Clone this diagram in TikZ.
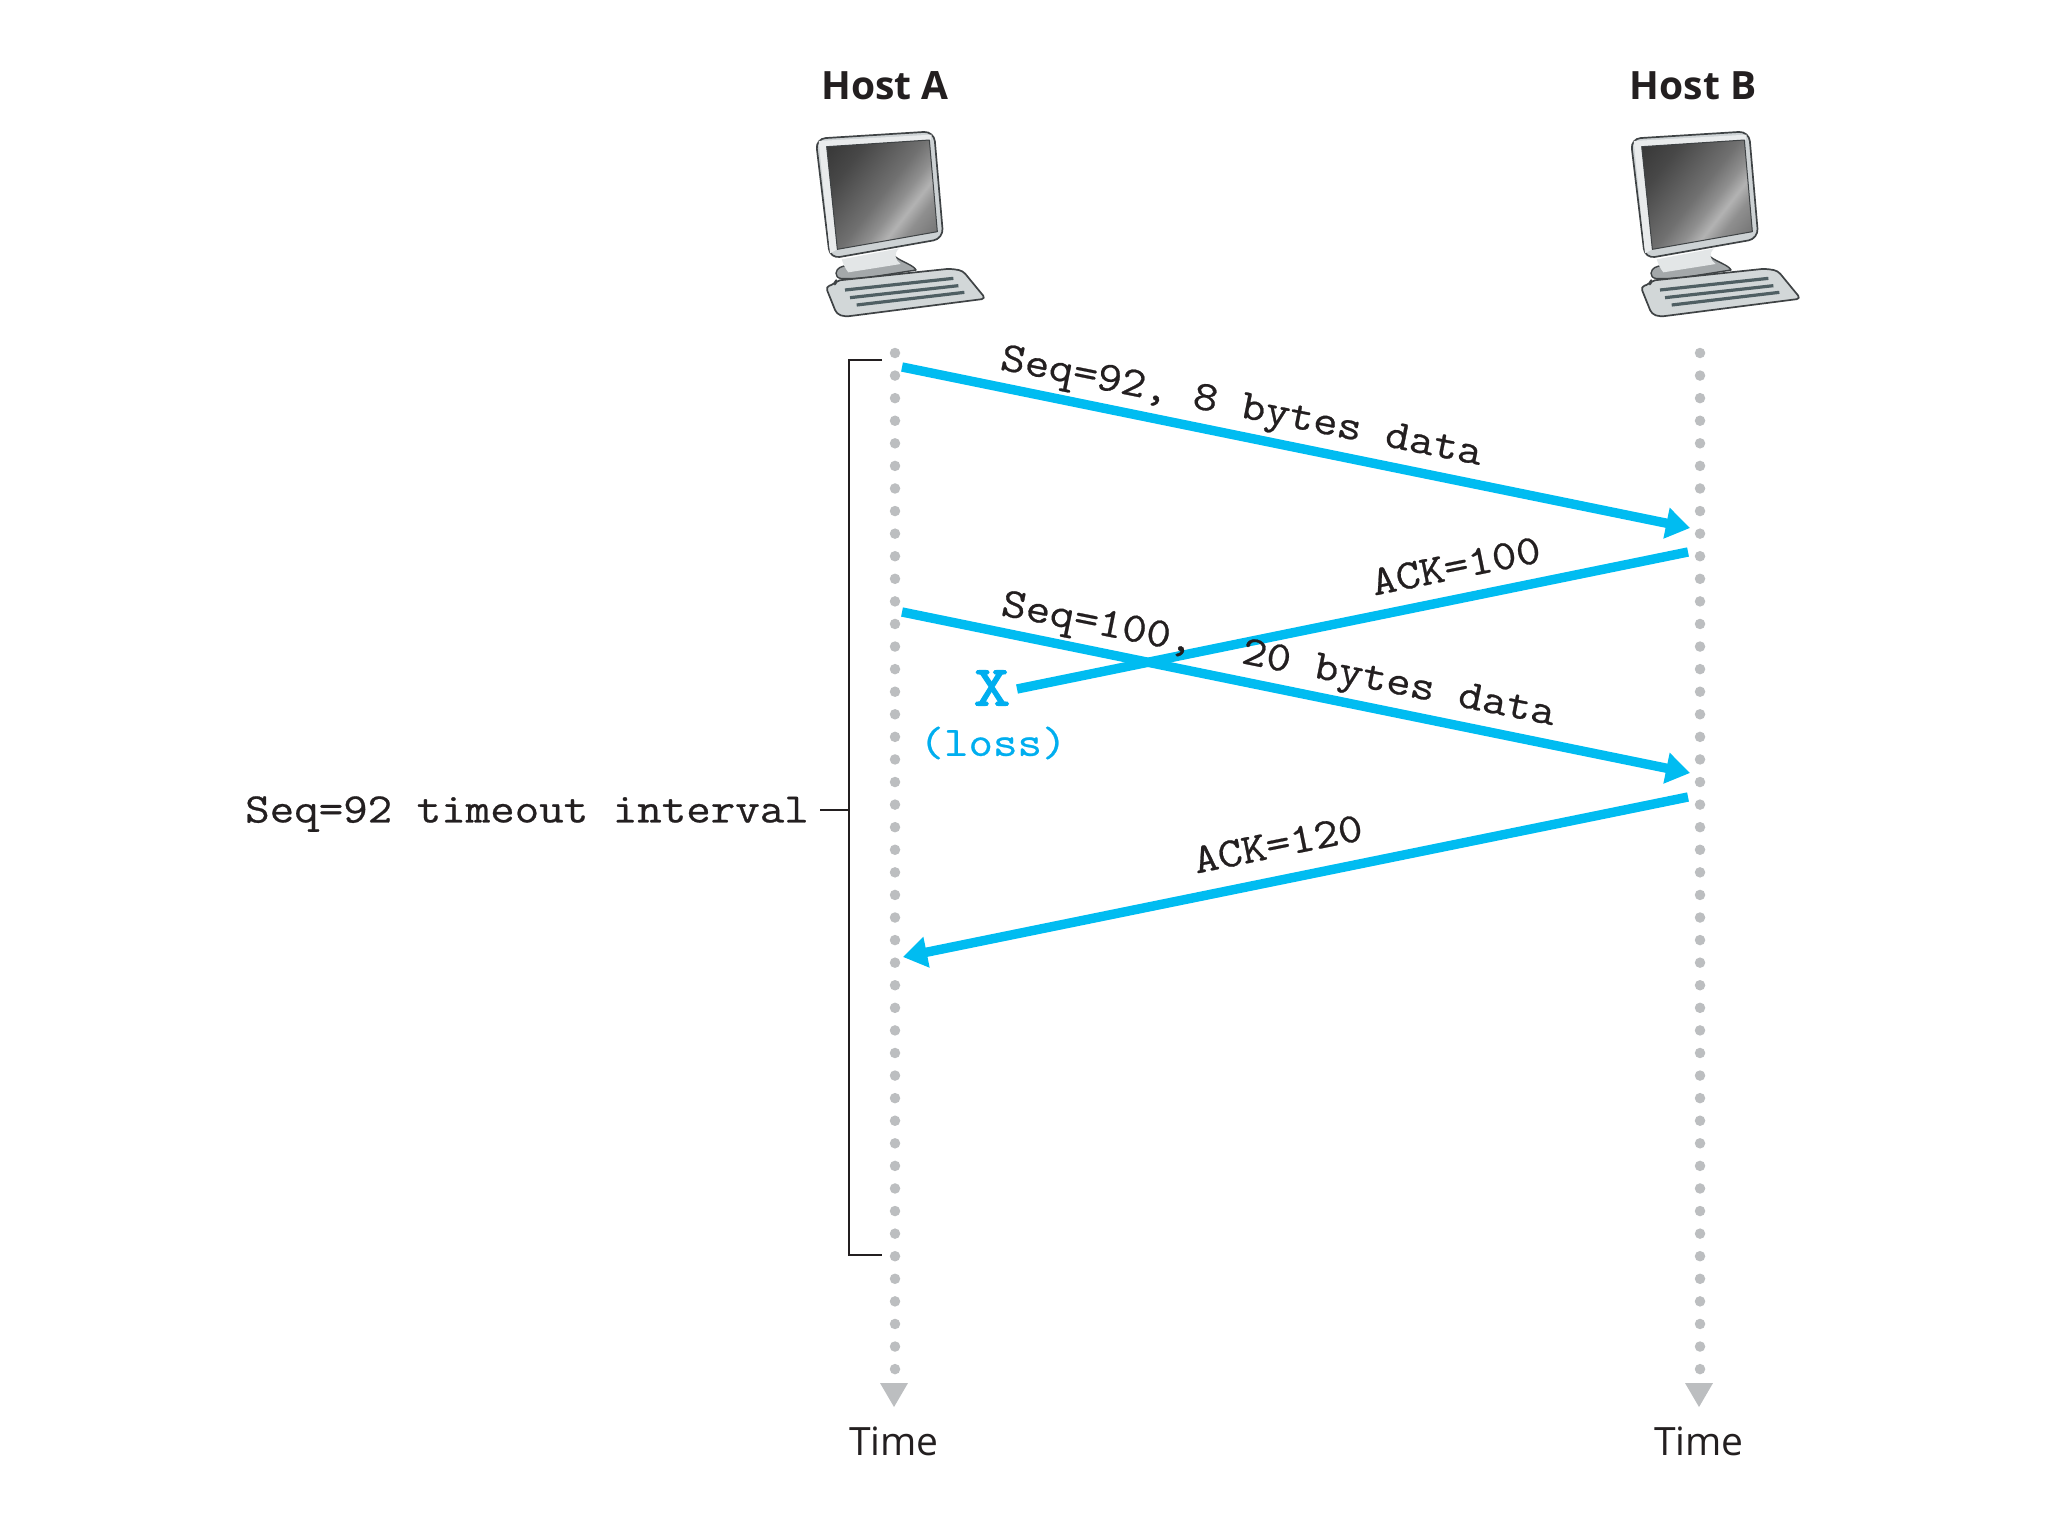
\documentclass[tikz,border=0pt]{standalone}
\usepackage{fontspec}
\setmainfont{Open Sans}
\newfontfamily\msgfont{Latin Modern Mono}[FakeStretch=1.133,FakeBold=0.6]
\newfontfamily\lossfont{Latin Modern Mono}[FakeStretch=1.25,FakeBold=2.2]
\usepackage{tikz}
\usetikzlibrary{arrows.meta}

\definecolor{inkblack}{HTML}{231F20}
\definecolor{msgblue}{HTML}{00BCF1}
\definecolor{lossblue}{HTML}{00AEEF}
\definecolor{dotgray}{HTML}{BCBEC0}
\definecolor{pcbody}{HTML}{CDD2D4}
\definecolor{pcedge}{HTML}{3F4345}
\definecolor{pckeys}{HTML}{4F5F63}

\pgfdeclarehorizontalshading{screenglow}{100bp}{
  color(0bp)=(black!86); color(30bp)=(black!72); color(50bp)=(black!56);
  color(58bp)=(black!44); color(64bp)=(black!30); color(70bp)=(black!44);
  color(82bp)=(black!56); color(100bp)=(black!60)}

\tikzset{
  host label/.style = {anchor=base, font=\fontsize{19.5}{22}\selectfont\bfseries, text=inkblack},
  time label/.style = {anchor=base, font=\fontsize{19.5}{22}\selectfont, text=inkblack},
  msg label/.style = {font=\fontsize{21}{24}\msgfont, text=inkblack},
  msg/.style = {draw=msgblue, line width=4.7pt, -{Triangle[length=12pt,width=15pt]}},
  lost msg/.style = {draw=msgblue, line width=4.7pt},
  timeline/.style = {draw=dotgray, line width=5.25pt, line cap=round, dash pattern=on 0pt off 11.29pt},
  time tip/.style = {fill=dotgray},
  bracket/.style = {draw=inkblack, line width=.85pt},
  pics/computer/.style = {code = {
    \begin{scope}[x=.16667pt, y=-.16667pt, line join=round]
      % stand
      \draw[pcedge, fill=pcbody!80!black, line width=.7pt]
        (168,700) .. controls (170,682) and (185,680) .. (200,676) -- (345,650)
        .. controls (370,668) and (400,675) .. (408,690) -- (250,715) -- (185,716)
        .. controls (172,714) and (168,708) .. (168,700) -- cycle;
      \fill[pcbody!55!white]
        (185,658) -- (358,625) .. controls (340,640) and (345,660) .. (362,672)
        -- (205,697) .. controls (195,685) and (190,672) .. (185,658) -- cycle;
      % monitor
      \draw[pcedge, fill=pcbody, line width=.85pt, rounded corners=5pt]
        (107,296) -- (462,274) -- (490,596) -- (150,656) -- cycle;
      \fill[pcbody!45!white] (116,303) -- (455,284) -- (452,300) -- (140,320) -- (172,628) -- (150,640) -- cycle;
      \path[shade, shading=screenglow, shading angle=-38]
        (140,320) -- (448,300) -- (472,575) -- (172,628) -- cycle;
      \draw[pcedge, line width=.5pt] (140,320) -- (448,300) -- (472,575) -- (172,628) -- cycle;
      % keyboard
      \draw[pcedge, fill=pcbody!90!white, line width=.85pt, rounded corners=2pt]
        (137,740) -- (165,732) -- (168,722) -- (510,686) -- (548,692) -- (617,776)
        -- (195,830) -- (170,822) -- cycle;
      \draw[pckeys, line width=1.6pt] (195,750) -- (520,715);
      \draw[pckeys, line width=1.6pt] (210,773) -- (535,737);
      \draw[pckeys, line width=1.6pt] (230,795) -- (553,757);
    \end{scope}
  }}
}

\begin{document}
\begin{tikzpicture}[x=.5pt, y=-.5pt]
  \useasboundingbox (0,0) rectangle (2048,1536);

  \node[host label] (hostA) at (885,99) {Host A};
  \node[host label] (hostB) at (1693,99) {Host B};
  \pic (pcA) at (780,40) {computer};
  \pic (pcB) at (1595,40) {computer};

  % time lines
  \coordinate (lineAtop) at (895,353);
  \coordinate (lineAend) at (895,1375);
  \coordinate (lineBtop) at (1700,353);
  \coordinate (lineBend) at (1700,1375);
  \draw[timeline] (lineAtop) -- (lineAend);
  \draw[timeline] (lineBtop) -- (lineBend);
  \fill[time tip] (880,1383) -- (908,1383) -- (894,1407) -- cycle;
  \fill[time tip] (1685,1383) -- (1713,1383) -- (1699,1407) -- cycle;
  \node[time label] (timeA) at (894,1455) {Time};
  \node[time label] (timeB) at (1699,1455) {Time};

  % messages
  \coordinate (seqAstart) at (902,367);
  \coordinate (seqAend) at (1690,528);
  \coordinate (ackAstart) at (1688,552);
  \coordinate (ackAend) at (1017,689);
  \coordinate (seqBstart) at (902,612);
  \coordinate (seqBend) at (1690,773);
  \coordinate (ackBstart) at (1688,797);
  \coordinate (ackBend) at (903,957);
  \draw[msg] (seqAstart) -- (seqAend);
  \draw[lost msg] (ackAstart) -- (ackAend);
  \draw[msg] (seqBstart) -- (seqBend);
  \draw[msg] (ackBstart) -- (ackBend);

  \node[msg label, rotate=-11.3] (seqAlabel) at (1241,409) {Seq=92, 8 bytes data};
  \node[msg label, rotate=11.4] (ackAlabel) at (1456,566) {ACK=100};
  \node[msg label, rotate=-11.3] (seqBlabel) at (1278,662) {Seq=100,\ \ 20 bytes data};
  \node[msg label, rotate=11.4] (ackBlabel) at (1278,844) {ACK=120};

  \node[font=\fontsize{28.5}{30}\lossfont, text=lossblue] (lossX) at (992,688) {X};
  \node[font=\fontsize{21}{24}\msgfont, text=lossblue] (lossText) at (993,743) {(loss)};

  % timeout bracket
  \coordinate (brTop) at (882,360);
  \coordinate (brBot) at (882,1255);
  \coordinate (brTick) at (820,810);
  \draw[bracket] (brTop) -- (849,360) -- (849,1255) -- (brBot);
  \draw[bracket] (brTick) -- (849,810);
  \node[msg label] (timeoutLabel) at (527,814) {Seq=92 timeout interval};
\end{tikzpicture}
\end{document}
